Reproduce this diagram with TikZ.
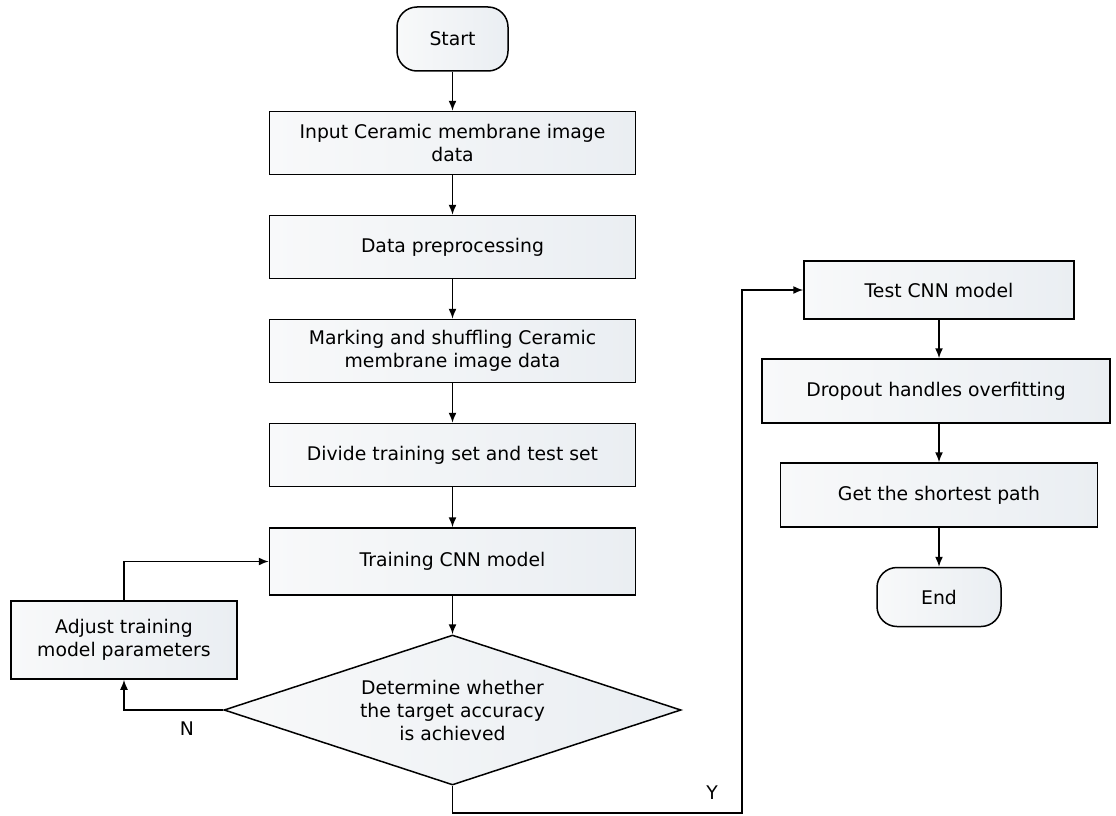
\documentclass[tikz,border=0pt]{standalone}
\usepackage{fontspec}
\setmainfont{DejaVu Sans}
\usetikzlibrary{shapes.geometric,arrows.meta}
\definecolor{boxl}{RGB}{248,249,250}
\definecolor{boxr}{RGB}{234,238,242}
\tikzset{
  base/.style={draw=black, line width=1.5pt, left color=boxl, right color=boxr, inner sep=0pt, align=center, font=\fontsize{18.8}{23}\selectfont},
  proc/.style={base, rectangle},
  term/.style={base, rectangle, rounded corners=20pt},
  decide/.style={base, diamond, aspect=3.04},
  arr/.style={draw=black, line width=1.5pt, -{Latex[length=10pt,width=8pt]}},
  lbl/.style={font=\fontsize{18.8}{22}\selectfont, inner sep=0pt}
}
\begin{document}
\begin{tikzpicture}[x=1pt,y=-1pt]
\useasboundingbox (0,0) rectangle (1116,816);
\node[term, minimum width=111pt, minimum height=64pt] (start) at (452.5,39) {Start};
\node[proc, minimum width=366pt, minimum height=63pt] (input) at (452.5,143) {Input Ceramic membrane image\\data};
\node[proc, minimum width=366pt, minimum height=63pt] (prep) at (452.5,247) {Data preprocessing};
\node[proc, minimum width=366pt, minimum height=63pt] (mark) at (452.5,351) {Marking and shuffling Ceramic\\membrane image data};
\node[proc, minimum width=366pt, minimum height=63pt] (divide) at (452.5,455) {Divide training set and test set};
\node[proc, minimum width=366pt, minimum height=67pt] (train) at (452.5,561.5) {Training CNN model};
\node[proc, minimum width=226pt, minimum height=78pt] (adjust) at (124,640) {Adjust training\\model parameters};
\node[decide, minimum width=457pt, minimum height=150pt] (dia) at (452.5,710) {Determine whether\\the target accuracy\\is achieved};
\node[proc, minimum width=270pt, minimum height=58pt] (test) at (939,290) {Test CNN model};
\node[proc, minimum width=348pt, minimum height=64pt] (drop) at (936,391) {Dropout handles overfitting};
\node[proc, minimum width=317pt, minimum height=64pt] (path) at (939,495) {Get the shortest path};
\node[term, minimum width=124pt, minimum height=59pt] (end) at (939,597) {End};
\coordinate (yc) at (742,813);
\node[lbl] (nl) at (187,729) {N};
\node[lbl] (yl) at (712,793) {Y};
\draw[arr] (start.south) -- (input.north);
\draw[arr] (input.south) -- (prep.north);
\draw[arr] (prep.south) -- (mark.north);
\draw[arr] (mark.south) -- (divide.north);
\draw[arr] (divide.south) -- (train.north);
\draw[arr] (train.south) -- (dia.north);
\draw[arr] (dia.west) -| (adjust.south);
\draw[arr] (adjust.north) |- (train.west);
\draw[arr] (dia.south) |- (yc) |- (test.west);
\draw[arr] (test.south) -- (test.south |- drop.north);
\draw[arr] (test.south |- drop.south) -- (path.north);
\draw[arr] (path.south) -- (end.north);
\end{tikzpicture}
\end{document}
